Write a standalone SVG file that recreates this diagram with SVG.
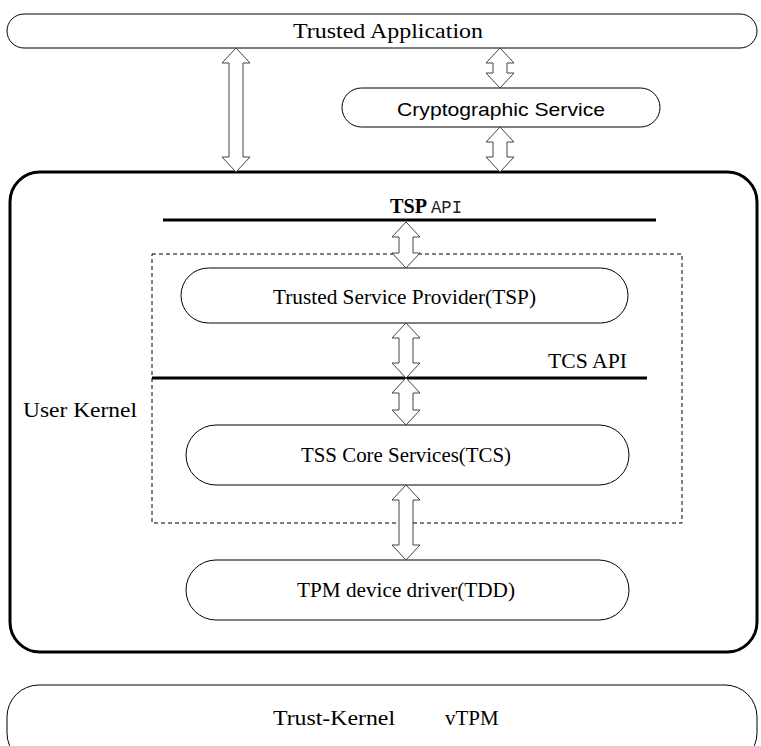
<svg xmlns="http://www.w3.org/2000/svg" width="761" height="746" viewBox="0 0 761 746">
<style>
.node{fill:#fff;stroke:#000;stroke-width:1}
.serif{font-family:"Liberation Serif","Times New Roman",serif;fill:#000}
.sans{font-family:"Liberation Sans",Arial,sans-serif;fill:#000}
.arrow{fill:#fff;stroke:#444;stroke-width:1;stroke-linejoin:miter}
.api{stroke:#000;stroke-width:3}
</style>
<rect width="761" height="746" fill="#fff"/>
<g id="user-kernel">
<rect x="10" y="172" width="747" height="480" rx="30" fill="#fff" stroke="#000" stroke-width="3"/>
<text class="serif" x="23" y="417" font-size="22" textLength="114" lengthAdjust="spacingAndGlyphs">User Kernel</text>
</g>
<g id="tss-boundary">
<rect x="152" y="254" width="530" height="269" fill="none" stroke="#000" stroke-width="1" stroke-dasharray="4,3"/>
</g>
<g id="trusted-application">
<rect class="node" x="7" y="14" width="750" height="34" rx="17"/>
<text class="serif" x="293" y="38" font-size="22" textLength="190" lengthAdjust="spacingAndGlyphs">Trusted Application</text>
</g>
<g id="cryptographic-service">
<rect class="node" x="342" y="88" width="318" height="39" rx="19.5"/>
<text class="sans" x="397" y="116" font-size="19" textLength="208" lengthAdjust="spacingAndGlyphs">Cryptographic Service</text>
</g>
<g id="tsp-api">
<line class="api" x1="163" y1="220" x2="656" y2="220"/>
<text class="serif" x="390" y="213" font-size="20" font-weight="bold" textLength="37" lengthAdjust="spacingAndGlyphs">TSP</text>
<text x="431" y="213" font-family="Liberation Mono,monospace" font-size="19" fill="#222" textLength="31" lengthAdjust="spacingAndGlyphs">API</text>
</g>
<g id="tsp">
<rect class="node" x="181" y="268" width="447" height="55" rx="27.5"/>
<text class="serif" x="273" y="304" font-size="21" textLength="263" lengthAdjust="spacingAndGlyphs">Trusted Service Provider(TSP)</text>
</g>
<g id="tcs-api">
<line class="api" x1="152" y1="378" x2="647" y2="378"/>
<text class="serif" x="548" y="368" font-size="21" textLength="79" lengthAdjust="spacingAndGlyphs">TCS API</text>
</g>
<g id="tcs">
<rect class="node" x="186" y="425" width="443" height="60" rx="30"/>
<text class="serif" x="301" y="462" font-size="21" textLength="210" lengthAdjust="spacingAndGlyphs">TSS Core Services(TCS)</text>
</g>
<g id="tdd">
<rect class="node" x="186" y="560" width="443" height="60" rx="30"/>
<text class="serif" x="297" y="597" font-size="21" textLength="218" lengthAdjust="spacingAndGlyphs">TPM device driver(TDD)</text>
</g>
<g id="trust-kernel">
<rect class="node" x="7" y="685" width="750" height="80" rx="32"/>
<text class="serif" x="273" y="725" font-size="21" textLength="122" lengthAdjust="spacingAndGlyphs">Trust-Kernel</text>
<text class="serif" x="445" y="725" font-size="21">vTPM</text>
</g>
<g id="connectors">
<path class="arrow" d="M236,48 L250,63 L243,63 L243,157 L250,157 L236,172 L222,157 L229,157 L229,63 L222,63 Z"/>
<path class="arrow" d="M500,48 L514,63 L507,63 L507,73 L514,73 L500,88 L486,73 L493,73 L493,63 L486,63 Z"/>
<path class="arrow" d="M500,127 L514,142 L507,142 L507,157 L514,157 L500,172 L486,157 L493,157 L493,142 L486,142 Z"/>
<path class="arrow" d="M406,222 L420,237 L413,237 L413,253 L420,253 L406,268 L392,253 L399,253 L399,237 L392,237 Z"/>
<path class="arrow" d="M406,323 L420,338 L413,338 L413,363 L420,363 L406,378 L392,363 L399,363 L399,338 L392,338 Z"/>
<path class="arrow" d="M406,378 L420,393 L413,393 L413,410 L420,410 L406,425 L392,410 L399,410 L399,393 L392,393 Z"/>
<path class="arrow" d="M406,485 L420,500 L413,500 L413,545 L420,545 L406,560 L392,545 L399,545 L399,500 L392,500 Z"/>
</g>
</svg>
